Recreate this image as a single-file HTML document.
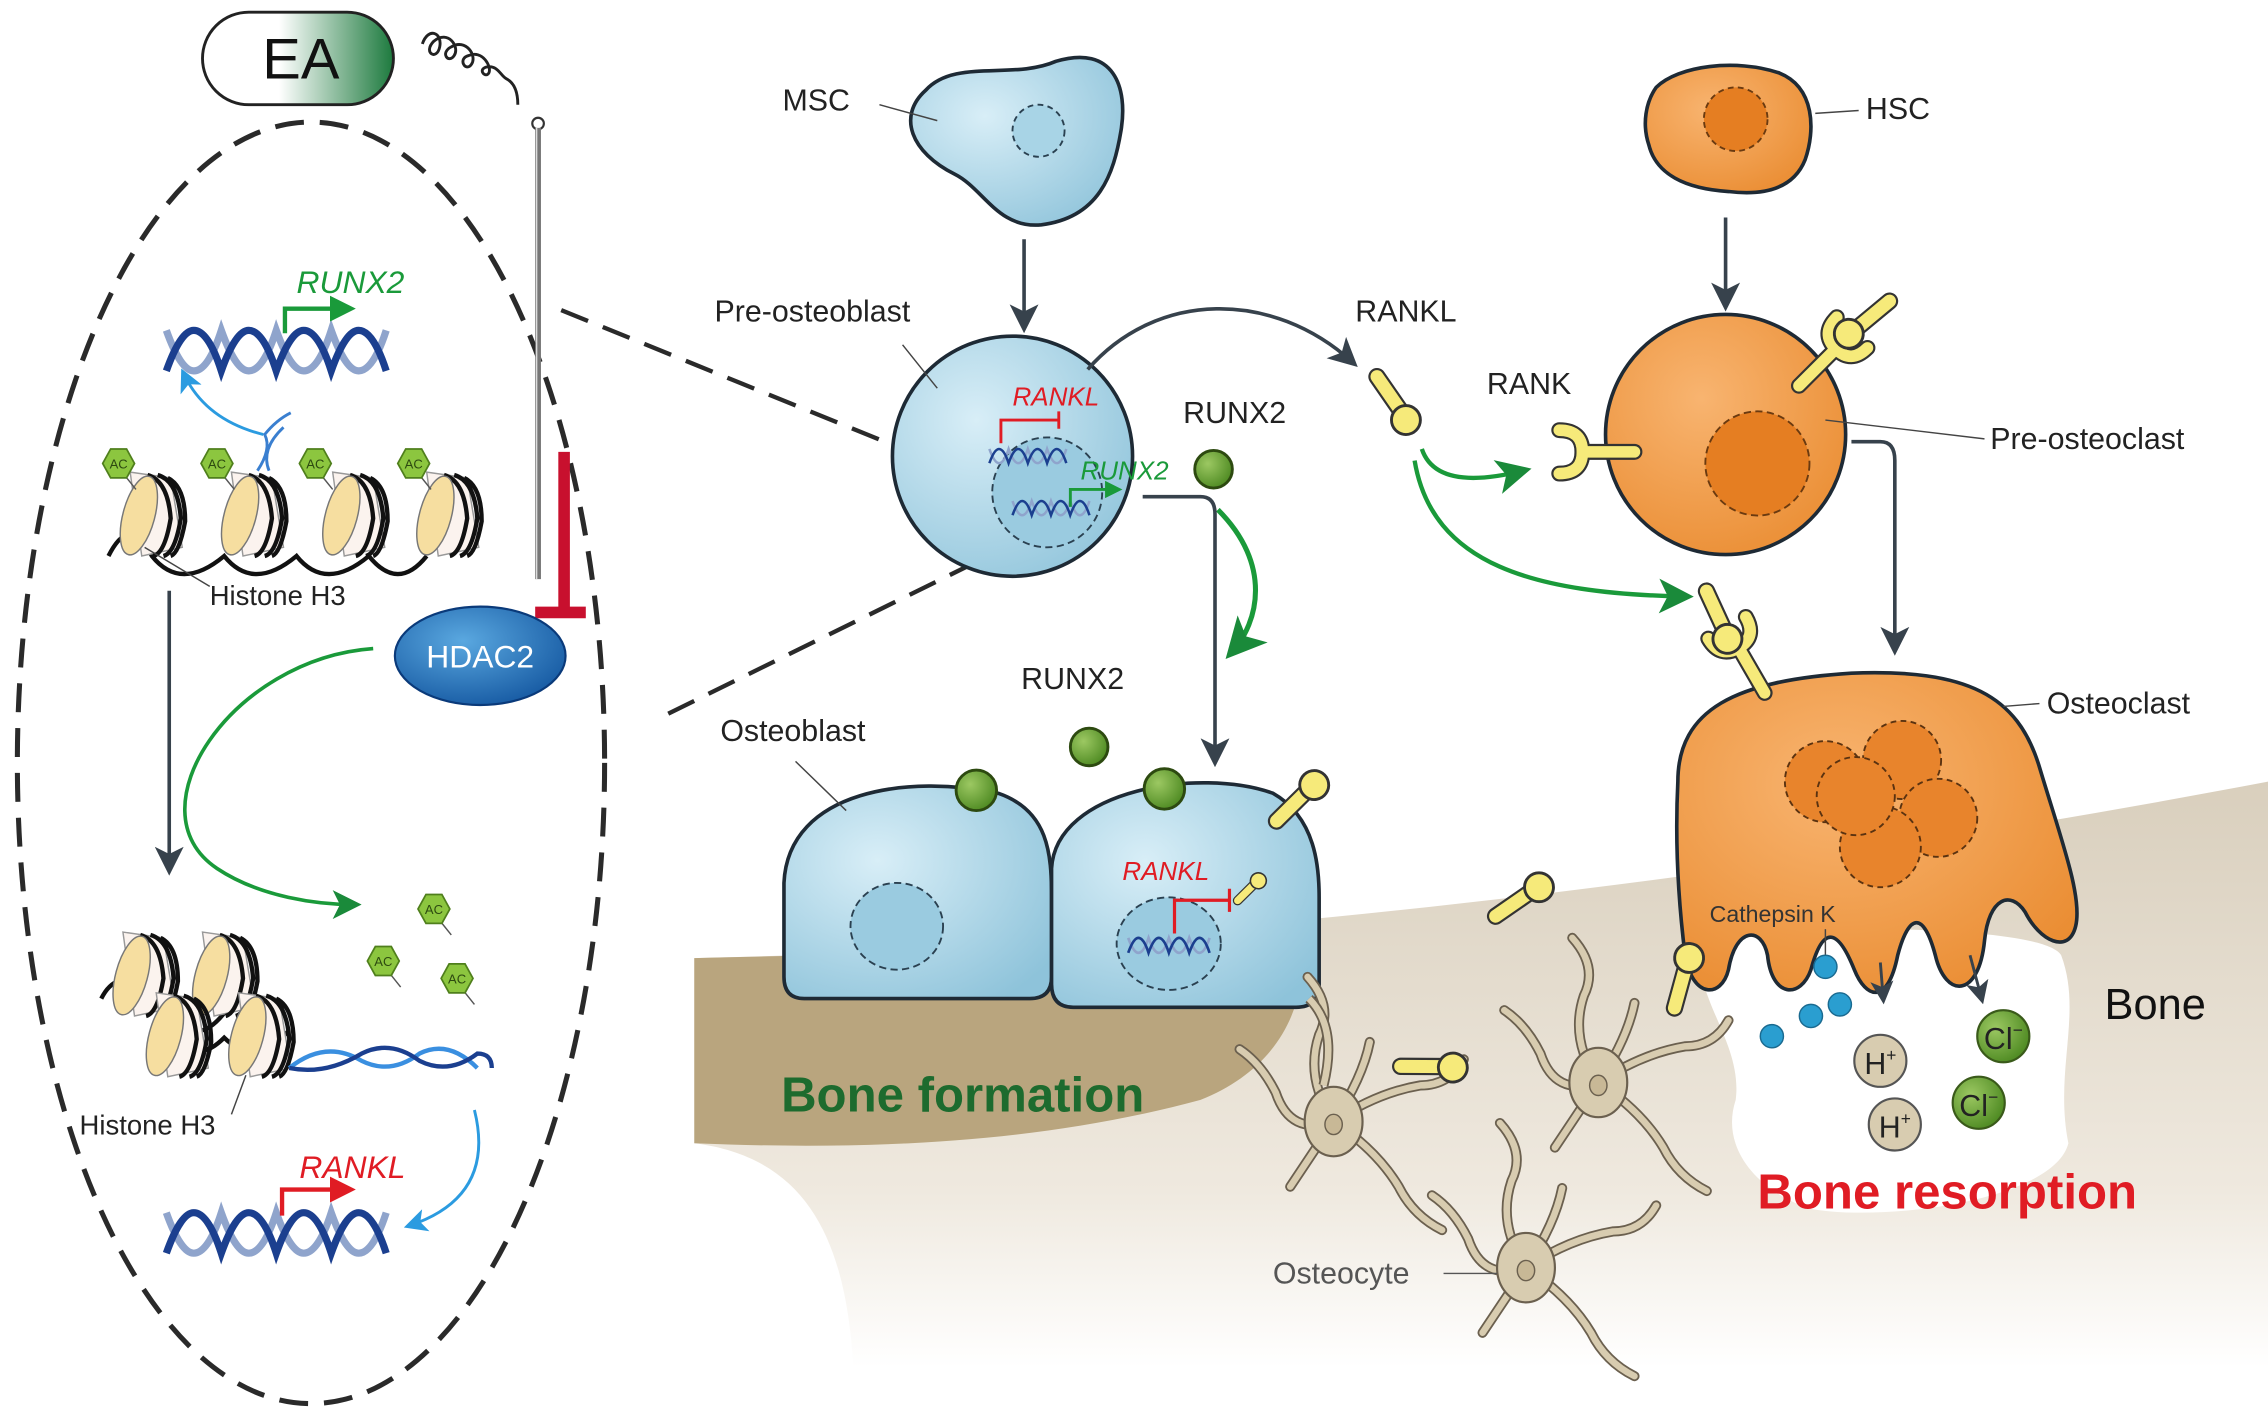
<!DOCTYPE html>
<html><head><meta charset="utf-8"><style>
html,body{margin:0;padding:0;background:#fff;}
svg{display:block;}
text{font-family:"Liberation Sans",sans-serif;}
</style></head><body>
<svg width="2268" height="1423" viewBox="0 0 1568 983" xmlns="http://www.w3.org/2000/svg">
<defs>
 <linearGradient id="ea" x1="0" x2="1"><stop offset="0.4" stop-color="#fff"/><stop offset="1" stop-color="#1d7a3e"/></linearGradient>
 <radialGradient id="blue" cx="0.35" cy="0.35" r="0.8"><stop offset="0" stop-color="#d8eef7"/><stop offset="1" stop-color="#8ec3da"/></radialGradient>
 <radialGradient id="orange" cx="0.4" cy="0.35" r="0.8"><stop offset="0" stop-color="#f8b470"/><stop offset="1" stop-color="#e98a2e"/></radialGradient>
 <radialGradient id="hdac" cx="0.4" cy="0.35" r="0.8"><stop offset="0" stop-color="#5aa8e0"/><stop offset="1" stop-color="#0d4f9a"/></radialGradient>
 <radialGradient id="green" cx="0.35" cy="0.35" r="0.7"><stop offset="0" stop-color="#9cc862"/><stop offset="1" stop-color="#4e8a22"/></radialGradient>
 <linearGradient id="bone" x1="0" y1="0" x2="0" y2="1"><stop offset="0" stop-color="#d9cfbd"/><stop offset="0.7" stop-color="#efe9df"/><stop offset="1" stop-color="#fff"/></linearGradient>
 <marker id="ag" markerWidth="8" markerHeight="8" refX="6" refY="4" orient="auto" markerUnits="strokeWidth"><path d="M0,0 L8,4 L0,8 L2,4Z" fill="#1a8a3a"/></marker>
 <marker id="ad" markerWidth="8" markerHeight="8" refX="6" refY="4" orient="auto" markerUnits="strokeWidth"><path d="M0,0 L8,4 L0,8 L2,4Z" fill="#37424c"/></marker>
 <marker id="ab" markerWidth="8" markerHeight="8" refX="6" refY="4" orient="auto" markerUnits="strokeWidth"><path d="M0,0 L8,4 L0,8 L2,4Z" fill="#2b9be0"/></marker>
 <marker id="ar" markerWidth="6" markerHeight="6" refX="4" refY="3" orient="auto" markerUnits="strokeWidth"><path d="M0,0 L6,3 L0,6Z" fill="#e01c24"/></marker>
 <marker id="agr" markerWidth="6" markerHeight="6" refX="4" refY="3" orient="auto" markerUnits="strokeWidth"><path d="M0,0 L6,3 L0,6Z" fill="#1a9a3a"/></marker>
 <g id="dna">
  <path d="M0,0 q10,28 19,28 q10,0 19,-28 q10,28 19,28 q10,0 19,-28 q10,28 19,28 q10,0 19,-28 q10,28 19,28 q10,0 19,-28" fill="none" stroke="#8fa4cc" stroke-width="5"/>
  <path d="M0,28 q10,-28 19,-28 q10,0 19,28 q10,-28 19,-28 q10,0 19,28 q10,-28 19,-28 q10,0 19,28 q10,-28 19,-28 q10,0 19,28" fill="none" stroke="#1b3f8f" stroke-width="5"/>
 </g>
 <g id="nuc">
  <path d="M-10,-26 L18,-22 L26,26 L-2,32Z" fill="#fbf3ee" stroke="#999" stroke-width="1"/>
  <path d="M2,-24 q14,4 16,30 q-4,24 -12,26 M9,-24 q14,4 16,30 q-4,24 -12,26 M16,-22 q12,6 12,30 q-4,22 -10,24" fill="none" stroke="#111" stroke-width="3"/>
  <ellipse cx="-4" cy="4" rx="11" ry="28" transform="rotate(15 -4 4)" fill="#f6dea0" stroke="#777" stroke-width="1"/>
 </g>
 <g id="ac">
  <line x1="4" y1="8" x2="12" y2="18" stroke="#555" stroke-width="1"/>
  <polygon points="-11,0 -5.5,-10 5.5,-10 11,0 5.5,10 -5.5,10" fill="#8cc63f" stroke="#4f7f1c" stroke-width="1.2"/>
  <text x="0" y="3.5" font-size="9" text-anchor="middle" fill="#2d4a10">AC</text>
 </g>
 <g id="lig">
  <line x1="0" y1="0" x2="-18" y2="-26" stroke="#333" stroke-width="12" stroke-linecap="round"/>
  <line x1="0" y1="0" x2="-18" y2="-26" stroke="#f6ea7a" stroke-width="9" stroke-linecap="round"/>
  <circle cx="2" cy="4" r="10" fill="#f6ea7a" stroke="#333" stroke-width="2"/>
 </g>
 <g id="rank">
  <path d="M4,0 L40,0" stroke="#333" stroke-width="11" stroke-linecap="round"/>
  <path d="M-12,-15 Q4,-15 4,0 Q4,15 -12,15" fill="none" stroke="#333" stroke-width="11" stroke-linecap="round"/>
  <path d="M4,0 L40,0" stroke="#f6ea7a" stroke-width="8" stroke-linecap="round"/>
  <path d="M-12,-15 Q4,-15 4,0 Q4,15 -12,15" fill="none" stroke="#f6ea7a" stroke-width="8" stroke-linecap="round"/>
 </g>
 <g id="ocy" fill="none" stroke-linecap="round">
  <g stroke="#6b604f" stroke-width="7">
   <path d="M0,0 q-20,-30 -10,-60 q10,-20 -8,-40 M0,0 q30,-20 60,-25 q20,0 30,-18 M0,0 q-30,10 -40,-20 q-10,-20 -25,-30 M0,0 q-20,30 -30,45 M0,0 q30,20 45,45 q10,20 30,30 M0,0 q20,-30 25,-55"/>
  </g>
  <g stroke="#d8ccb0" stroke-width="4.5">
   <path d="M0,0 q-20,-30 -10,-60 q10,-20 -8,-40 M0,0 q30,-20 60,-25 q20,0 30,-18 M0,0 q-30,10 -40,-20 q-10,-20 -25,-30 M0,0 q-20,30 -30,45 M0,0 q30,20 45,45 q10,20 30,30 M0,0 q20,-30 25,-55"/>
  </g>
  <ellipse cx="0" cy="0" rx="20" ry="24" fill="#d8ccb0" stroke="#6b604f" stroke-width="1.5"/>
  <ellipse cx="0" cy="2" rx="6" ry="7" fill="#c8b896" stroke="#6b604f" stroke-width="1"/>
 </g>
</defs>

<!-- bone background -->
<path d="M480,662 C800,655 1200,610 1568,540 L1568,945 L590,945 C585,860 560,800 480,790Z" fill="url(#bone)"/>
<path d="M480,662 C650,658 780,656 900,648 C905,700 880,740 830,760 C720,790 600,795 480,790Z" fill="#b9a57e"/>
<!-- resorption pit -->
<path d="M1175,650 C1190,640 1410,635 1425,660 C1440,700 1420,740 1430,790 C1420,830 1300,845 1250,835 C1210,820 1190,790 1200,760 C1205,720 1170,690 1175,650Z" fill="#fff"/>

<!-- dashed ellipse -->
<ellipse cx="215" cy="527" rx="203" ry="443" fill="none" stroke="#2a2a2a" stroke-width="3.5" stroke-dasharray="20,11"/>

<!-- EA & needle -->
<rect x="140" y="8" width="132" height="64" rx="32" fill="url(#ea)" stroke="#222" stroke-width="2"/>
<text x="208" y="54" font-size="40" text-anchor="middle" fill="#111">EA</text>
<path d="M292,30 c4,-12 14,-8 12,2 c-2,10 -12,4 -4,-4 c10,-8 18,4 14,10 c-4,6 -10,-2 -2,-6 c10,-6 18,6 14,12 c-4,6 -10,-4 -2,-6 c10,-4 16,8 14,12 c-2,4 -8,-2 -2,-4 c8,-2 10,6 14,8 q8,4 8,18" fill="none" stroke="#222" stroke-width="2"/>
<circle cx="372" cy="85" r="4" fill="#fff" stroke="#333" stroke-width="1.5"/>
<line x1="372" y1="88" x2="372" y2="400" stroke="#777" stroke-width="4"/>
<line x1="371" y1="88" x2="371" y2="400" stroke="#ddd" stroke-width="1"/>
<line x1="390" y1="312" x2="390" y2="420" stroke="#c8102e" stroke-width="8"/>
<line x1="370" y1="423" x2="405" y2="423" stroke="#c8102e" stroke-width="8"/>

<!-- connector dashed lines -->
<line x1="388" y1="214" x2="710" y2="345" stroke="#2a2a2a" stroke-width="3" stroke-dasharray="20,11"/>
<line x1="462" y1="493" x2="728" y2="362" stroke="#2a2a2a" stroke-width="3" stroke-dasharray="20,11"/>

<!-- top DNA RUNX2 -->
<use href="#dna" x="115" y="228"/>
<path d="M197,230 L197,213 L240,213" fill="none" stroke="#1a9a3a" stroke-width="3" marker-end="url(#agr)"/>
<text x="205" y="202" font-size="22" font-style="italic" fill="#1a9a3a">RUNX2</text>
<path d="M182,300 q-40,-10 -55,-42" fill="none" stroke="#2b9be0" stroke-width="2" marker-end="url(#ab)"/>
<path d="M178,325 q10,-15 5,-25 q8,-10 18,-15 M186,325 q-6,-15 10,-30" fill="none" stroke="#3a7fd0" stroke-width="2"/>

<!-- acetylated chromatin -->
<path d="M75,384 q15,-30 30,0 q20,25 50,0 q20,25 50,0 q20,25 50,0 q20,25 40,0" fill="none" stroke="#111" stroke-width="3"/>
<use href="#nuc" x="100" y="352"/>
<use href="#nuc" x="170" y="352"/>
<use href="#nuc" x="240" y="352"/>
<use href="#nuc" x="305" y="352"/>
<use href="#ac" x="82" y="320"/>
<use href="#ac" x="150" y="320"/>
<use href="#ac" x="218" y="320"/>
<use href="#ac" x="286" y="320"/>
<line x1="100" y1="378" x2="145" y2="405" stroke="#444" stroke-width="1"/>
<text x="145" y="418" font-size="19" fill="#222">Histone H3</text>
<line x1="117" y1="408" x2="117" y2="600" stroke="#37424c" stroke-width="2.5" marker-end="url(#ad)"/>

<!-- HDAC2 -->
<path d="M258,448 C160,455 90,560 150,600 C180,620 220,625 245,625" fill="none" stroke="#1a9a3a" stroke-width="2.5" marker-end="url(#ag)"/>
<ellipse cx="332" cy="453" rx="59" ry="34" fill="url(#hdac)" stroke="#0a3a7a" stroke-width="1.5"/>
<text x="332" y="461" font-size="22" text-anchor="middle" fill="#fff">HDAC2</text>

<use href="#ac" x="300" y="628"/>
<use href="#ac" x="265" y="664"/>
<use href="#ac" x="316" y="676"/>

<!-- condensed chromatin -->
<path d="M70,690 q10,-20 30,-10 M120,700 q15,25 35,0 M125,712 q10,25 30,5 q20,20 45,-5" fill="none" stroke="#111" stroke-width="3"/>
<use href="#nuc" x="95" y="670"/>
<use href="#nuc" x="150" y="670"/>
<use href="#nuc" x="118" y="712"/>
<use href="#nuc" x="175" y="712"/>
<path d="M200,738 q25,-20 50,-5 q20,10 40,-5 q20,-10 40,10" fill="none" stroke="#3a8fe0" stroke-width="3"/>
<path d="M200,738 q25,5 50,-10 q20,-10 40,5 q20,10 40,-5 q10,0 10,10" fill="none" stroke="#1b3f8f" stroke-width="3"/>
<line x1="170" y1="743" x2="160" y2="770" stroke="#444" stroke-width="1"/>
<text x="55" y="784" font-size="19" fill="#222">Histone H3</text>
<path d="M328,767 q15,60 -45,80" fill="none" stroke="#2b9be0" stroke-width="2" marker-end="url(#ab)"/>
<use href="#dna" x="115" y="838"/>
<path d="M195,840 L195,822 L240,822" fill="none" stroke="#e01c24" stroke-width="3" marker-end="url(#ar)"/>
<text x="207" y="814" font-size="22" font-style="italic" fill="#e01c24">RANKL</text>

<!-- MSC -->
<path d="M640,62 C660,40 700,55 730,42 C770,30 780,60 775,90 C770,120 760,150 720,155 C690,158 680,130 660,120 C630,105 620,80 640,62Z" fill="url(#blue)" stroke="#1e2a35" stroke-width="2.5"/>
<circle cx="718" cy="90" r="18" fill="#a8d4e6" stroke="#2a4050" stroke-width="1.3" stroke-dasharray="4,3"/>
<text x="541" y="76" font-size="21" fill="#222">MSC</text>
<line x1="608" y1="72" x2="648" y2="83" stroke="#444" stroke-width="1"/>
<line x1="708" y1="165" x2="708" y2="225" stroke="#37424c" stroke-width="2.5" marker-end="url(#ad)"/>

<!-- Pre-osteoblast -->
<circle cx="700" cy="315" r="83" fill="url(#blue)" stroke="#1e2a35" stroke-width="2.5"/>
<circle cx="724" cy="340" r="38" fill="#9acbe0" stroke="#2a4050" stroke-width="1.3" stroke-dasharray="5,3"/>
<g transform="translate(684,310) scale(0.35)"><use href="#dna"/></g>
<g transform="translate(700,346) scale(0.35)"><use href="#dna"/></g>
<path d="M692,306 L692,290 L732,290 M732,284 L732,296" fill="none" stroke="#e01c24" stroke-width="2"/>
<text x="700" y="280" font-size="18" font-style="italic" fill="#e01c24">RANKL</text>
<path d="M740,350 L740,338 L772,338" fill="none" stroke="#1a9a3a" stroke-width="2" marker-end="url(#agr)"/>
<text x="747" y="331" font-size="18" font-style="italic" fill="#1a9a3a">RUNX2</text>
<text x="494" y="222" font-size="21" fill="#222">Pre-osteoblast</text>
<line x1="624" y1="238" x2="648" y2="268" stroke="#444" stroke-width="1"/>

<!-- RANKL arrow -->
<path d="M752,255 C800,200 880,200 935,250" fill="none" stroke="#37424c" stroke-width="2.5" marker-end="url(#ad)"/>
<text x="937" y="222" font-size="21" fill="#222">RANKL</text>
<use href="#lig" x="970" y="286"/>
<text x="1028" y="272" font-size="21" fill="#222">RANK</text>
<path d="M983,310 q10,30 70,15" fill="none" stroke="#1a9a3a" stroke-width="3" marker-end="url(#ag)"/>
<path d="M978,318 C990,390 1060,410 1165,412" fill="none" stroke="#1a9a3a" stroke-width="3" marker-end="url(#ag)"/>

<!-- RUNX2 mid -->
<text x="818" y="292" font-size="21" fill="#222">RUNX2</text>
<circle cx="839" cy="324" r="13" fill="url(#green)" stroke="#2d4a10" stroke-width="2"/>
<path d="M842,352 C880,390 870,430 852,450" fill="none" stroke="#1a9a3a" stroke-width="3.5" marker-end="url(#ag)"/>
<path d="M790,343 L830,343 Q840,343 840,355 L840,525" fill="none" stroke="#37424c" stroke-width="2.5" marker-end="url(#ad)"/>
<text x="706" y="476" font-size="21" fill="#222">RUNX2</text>
<circle cx="753" cy="516" r="13" fill="url(#green)" stroke="#2d4a10" stroke-width="2"/>

<!-- Osteoblasts -->
<path d="M542,610 C545,545 630,535 690,548 C725,560 727,590 727,620 L727,675 Q727,690 712,690 L556,690 Q542,690 542,675Z" fill="url(#blue)" stroke="#1e2a35" stroke-width="2.5"/>
<ellipse cx="620" cy="640" rx="32" ry="30" fill="#9acbe0" stroke="#2a4050" stroke-width="1.3" stroke-dasharray="5,3"/>
<path d="M727,600 C730,545 830,530 880,548 C910,565 912,600 912,620 L912,680 Q912,696 896,696 L742,696 Q727,696 727,680Z" fill="url(#blue)" stroke="#1e2a35" stroke-width="2.5"/>
<ellipse cx="808" cy="652" rx="36" ry="32" fill="#9acbe0" stroke="#2a4050" stroke-width="1.3" stroke-dasharray="5,3"/>
<g transform="translate(780,648) scale(0.37)"><use href="#dna"/></g>
<path d="M812,645 L812,622 L850,622 M850,614 L850,630" fill="none" stroke="#e01c24" stroke-width="2.2"/>
<text x="776" y="608" font-size="18" font-style="italic" fill="#e01c24">RANKL</text>
<g transform="translate(868,610) rotate(260) scale(0.55)"><use href="#lig"/></g>
<circle cx="675" cy="546" r="14" fill="url(#green)" stroke="#2d4a10" stroke-width="2"/>
<circle cx="805" cy="545" r="14" fill="url(#green)" stroke="#2d4a10" stroke-width="2"/>
<g transform="translate(905,545) rotate(260)"><use href="#lig"/></g>
<text x="498" y="512" font-size="21" fill="#222">Osteoblast</text>
<line x1="550" y1="526" x2="585" y2="560" stroke="#444" stroke-width="1"/>
<text x="540" y="768" font-size="34" font-weight="bold" fill="#1d6b2e">Bone formation</text>

<!-- HSC -->
<path d="M1145,60 C1160,45 1200,40 1230,50 C1255,60 1255,90 1248,110 C1240,130 1220,135 1195,132 C1165,130 1145,120 1140,100 C1135,85 1138,70 1145,60Z" fill="url(#orange)" stroke="#1e2a35" stroke-width="2.5"/>
<circle cx="1200" cy="82" r="22" fill="#e57e22" stroke="#6a3a10" stroke-width="1.3" stroke-dasharray="4,3"/>
<text x="1290" y="82" font-size="21" fill="#222">HSC</text>
<line x1="1255" y1="78" x2="1285" y2="76" stroke="#444" stroke-width="1"/>
<line x1="1193" y1="150" x2="1193" y2="210" stroke="#37424c" stroke-width="2.5" marker-end="url(#ad)"/>

<!-- Pre-osteoclast -->
<circle cx="1193" cy="300" r="83" fill="url(#orange)" stroke="#1e2a35" stroke-width="2.5"/>
<circle cx="1215" cy="320" r="36" fill="#e57e22" stroke="#6a3a10" stroke-width="1.3" stroke-dasharray="5,3"/>
<use href="#rank" x="1090" y="312"/>
<g transform="translate(1272,238) rotate(135)"><use href="#rank"/></g>
<g transform="translate(1282,228) rotate(85)"><use href="#lig"/></g>
<text x="1376" y="310" font-size="21" fill="#222">Pre-osteoclast</text>
<line x1="1262" y1="290" x2="1372" y2="303" stroke="#444" stroke-width="1"/>
<path d="M1280,305 L1300,305 Q1310,305 1310,318 L1310,448" fill="none" stroke="#37424c" stroke-width="2.5" marker-end="url(#ad)"/>

<!-- Osteoclast -->
<path d="M1160,540 C1160,490 1200,470 1280,465 C1360,462 1395,480 1410,530 C1425,580 1440,620 1435,640 C1430,660 1410,650 1400,630 C1390,615 1375,620 1372,650 C1368,690 1345,690 1338,660 C1330,630 1320,630 1312,660 C1305,695 1290,690 1282,670 C1270,640 1260,640 1252,670 C1245,690 1225,690 1222,660 C1218,640 1200,640 1195,670 C1190,690 1170,690 1165,660 C1160,620 1158,580 1160,540Z" fill="url(#orange)" stroke="#1e2a35" stroke-width="2.5"/>
<g fill="#e8842c" stroke="#5a3210" stroke-width="1.3" stroke-dasharray="4,3">
 <circle cx="1262" cy="540" r="28"/><circle cx="1315" cy="525" r="27"/><circle cx="1340" cy="565" r="27"/><circle cx="1300" cy="585" r="28"/><circle cx="1283" cy="550" r="27"/>
</g>
<g transform="translate(1200,444) rotate(60)"><use href="#rank"/></g>
<g transform="translate(1193,437) rotate(10)"><use href="#lig"/></g>
<text x="1415" y="493" font-size="21" fill="#222">Osteoclast</text>
<line x1="1385" y1="488" x2="1410" y2="486" stroke="#444" stroke-width="1"/>
<text x="1182" y="637" font-size="16" fill="#333">Cathepsin K</text>
<line x1="1262" y1="642" x2="1262" y2="662" stroke="#444" stroke-width="1"/>
<g fill="#2a9ed0" stroke="#1a6a90" stroke-width="1">
 <circle cx="1262" cy="668" r="8"/><circle cx="1252" cy="702" r="8"/><circle cx="1272" cy="694" r="8"/><circle cx="1225" cy="716" r="8"/>
</g>
<path d="M1300,665 L1302,690" stroke="#37424c" stroke-width="2" marker-end="url(#ad)"/>
<path d="M1362,660 L1370,690" stroke="#37424c" stroke-width="2" marker-end="url(#ad)"/>
<g stroke="#555" stroke-width="1.5" fill="#d8ccb0">
 <circle cx="1300" cy="733" r="18"/><circle cx="1310" cy="777" r="18"/>
</g>
<g stroke="#3a5a1a" stroke-width="1.5" fill="url(#green)">
 <circle cx="1385" cy="716" r="18"/><circle cx="1368" cy="762" r="18"/>
</g>
<text x="1300" y="742" font-size="21" text-anchor="middle" fill="#222">H<tspan font-size="12" dy="-9">+</tspan></text>
<text x="1310" y="786" font-size="21" text-anchor="middle" fill="#222">H<tspan font-size="12" dy="-9">+</tspan></text>
<text x="1385" y="725" font-size="21" text-anchor="middle" fill="#222">Cl<tspan font-size="12" dy="-9">−</tspan></text>
<text x="1368" y="771" font-size="21" text-anchor="middle" fill="#222">Cl<tspan font-size="12" dy="-9">−</tspan></text>
<text x="1455" y="704" font-size="30" fill="#111">Bone</text>
<text x="1215" y="835" font-size="34" font-weight="bold" fill="#e01c24">Bone resorption</text>

<!-- free RANKL & osteocytes -->
<g transform="translate(1060,615) rotate(-90)"><use href="#lig"/></g>
<use href="#ocy" x="922" y="775"/>
<use href="#ocy" x="1105" y="748"/>
<use href="#ocy" x="1055" y="876"/>
<path d="M905,690 q20,20 10,60" fill="none" stroke="#6b604f" stroke-width="7"/>
<path d="M905,690 q20,20 10,60" fill="none" stroke="#d8ccb0" stroke-width="4.5"/>
<g transform="translate(1000,737) rotate(-55)"><use href="#lig"/></g>
<g transform="translate(1166,666) rotate(230)"><use href="#lig"/></g>
<text x="880" y="887" font-size="21" fill="#555">Osteocyte</text>
<line x1="998" y1="880" x2="1035" y2="880" stroke="#555" stroke-width="1"/>
</svg>
</body></html>
